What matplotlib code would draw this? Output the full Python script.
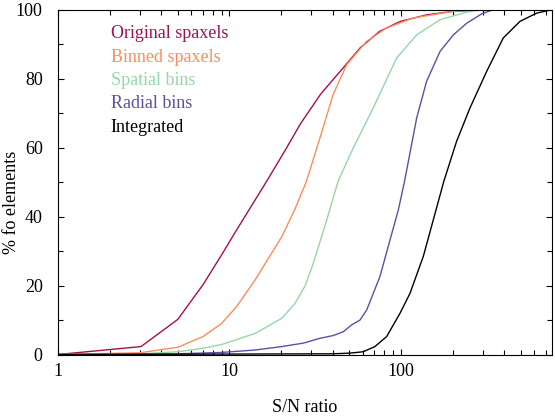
import numpy as np
import matplotlib
matplotlib.use("Agg")
import matplotlib.pyplot as plt
from matplotlib.ticker import MultipleLocator, FixedLocator, NullFormatter, FuncFormatter

plt.rcParams['font.family'] = ['Liberation Serif', 'DejaVu Serif']

# cumulative fraction of elements above a given S/N
orig_x = [1, 3.05, 5.0, 7.0, 9.0, 11, 16.5, 21, 26, 34, 44, 58, 75, 99, 141, 200, 300]
orig_y = [0, 2.3, 10.2, 20.2, 28.9, 36.1, 50.3, 59, 67, 75.5, 82, 89, 93.7, 96.6, 98.5, 99.5, 100]

binned_x = [1, 3, 5, 7, 9, 11, 14.1, 20.2, 24, 28, 33.7, 40.3, 48.2, 63, 82.5, 118, 200, 300]
binned_y = [0, 0.5, 2.1, 5.2, 9.0, 13.9, 21.6, 34.2, 42, 50, 62.8, 75.5, 84, 90.8, 94.7, 97.6, 99.5, 100]

spatial_x = [1, 3, 5, 7, 9, 14.1, 20.2, 24.1, 27.6, 30.8, 36.9, 43, 52.7, 68.9, 94.4, 123.5, 169, 242, 300]
spatial_y = [0, 0.2, 0.8, 1.8, 2.9, 6.1, 10.5, 14.8, 19.9, 26.4, 39, 50.3, 59.9, 71.5, 86, 92.7, 97.1, 99.3, 100]

radial_x = [1, 5, 9, 14.1, 20.2, 27, 33.7, 40.3, 46.1, 51.6, 57.7, 63.1, 68.9, 75.4, 86.3, 96.5, 105,
            123.5, 141, 169, 202, 242, 296, 345]
radial_y = [0, 0.2, 0.6, 1.3, 2.3, 3.3, 4.7, 5.5, 6.6, 8.6, 10, 12.9, 17.7, 22.6, 33.2, 41.9, 50.3,
            68.6, 79.2, 87.9, 92.7, 96.1, 98.8, 100]

integ_x = [1, 40, 50.4, 60.3, 70.5, 82.5, 98.6, 112.8, 134.9, 154.3, 178, 211, 252.6, 316, 395, 494, 618, 757]
integ_y = [0, 0.2, 0.4, 0.8, 2.3, 5.2, 11.9, 17.7, 28.4, 39, 50.3, 61.8, 71.5, 82.1, 91.8, 96.6, 99, 100]

names = ['Original spaxels', 'Binned spaxels', 'Spatial bins', 'Radial bins', 'Integrated']
colors = ['#a3104f', '#fc8d59', '#99d5a5', '#5e4fa2', 'black']
series = [(orig_x, orig_y), (binned_x, binned_y), (spatial_x, spatial_y),
          (radial_x, radial_y), (integ_x, integ_y)]

fig = plt.figure(figsize=(5.55, 4.18), dpi=100)
ax = fig.add_axes([58/555, 1-354.5/418, 494/555, 344.8/418])

for (xs, ys), c in zip(series, colors):
    ax.plot(xs, ys, color=c, lw=1.0)

ax.set_xscale('log')
ax.set_xlim(1, 760)
ax.set_ylim(0, 100)
ax.xaxis.set_major_locator(FixedLocator([1, 10, 100]))
ax.xaxis.set_major_formatter(FuncFormatter(lambda v, p: '%d' % v))
ax.xaxis.set_minor_locator(FixedLocator([m*d for d in (1, 10, 100) for m in range(2, 10)]))
ax.xaxis.set_minor_formatter(NullFormatter())
ax.yaxis.set_major_locator(MultipleLocator(20))
ax.yaxis.set_minor_locator(MultipleLocator(10))

ax.tick_params(which='both', direction='in', top=True, right=True, labelsize=13, width=0.8)
ax.tick_params(which='major', length=4.5)
ax.tick_params(which='minor', length=3.5)
ax.tick_params(axis='x', which='major', pad=6)
ax.tick_params(axis='y', which='major', pad=11)
for s in ax.spines.values():
    s.set_linewidth(0.8)

ax.set_xlabel('S/N ratio', fontsize=13, labelpad=14)
ax.set_ylabel('% fo elements', fontsize=13)
ax.yaxis.set_label_coords(-0.076, 0.44)

ys_leg = [0.932, 0.862, 0.795, 0.729, 0.659]
for name, c, yy in zip(names, colors, ys_leg):
    ax.text(0.107, yy, name, color=c, fontsize=13, transform=ax.transAxes, va='center', ha='left')

fig.savefig('out.png', dpi=100)
